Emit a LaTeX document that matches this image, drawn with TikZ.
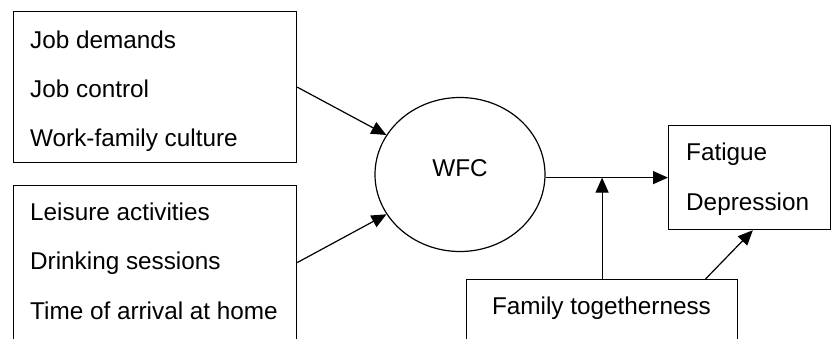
\documentclass[tikz,border=0pt]{standalone}
\usepackage{fontspec}
\setmainfont{Liberation Sans}
\usetikzlibrary{arrows.meta,shapes.geometric,calc}

\tikzset{
  frame/.style={draw, rectangle, line width=1.2pt, inner sep=0pt, anchor=north west},
  label/.style={anchor=base west, inner sep=0pt, font=\fontsize{24.3}{29}\selectfont},
  link/.style={line width=1.2pt, -{Triangle[length=15pt,width=13pt]}},
}

\begin{document}
\begin{tikzpicture}[x=1pt, y=-1pt]
  \useasboundingbox (0,0) rectangle (831,338);

  % predictor boxes
  \node[frame, minimum width=283pt, minimum height=151pt] (work) at (13,11) {};
  \node[frame, minimum width=283pt, minimum height=154pt] (life) at (13,185) {};
  \node[label] (jd) at (30,48) {Job demands};
  \node[label] (jc) at (30,97) {Job control};
  \node[label] (wc) at (30,146) {Work-family culture};
  \node[label] (la) at (30,220) {Leisure activities};
  \node[label] (ds) at (30,269) {Drinking sessions};
  \node[label] (ta) at (30,319) {Time of arrival at home};

  % mediator
  \node[draw, ellipse, line width=1.2pt, inner sep=0pt,
        minimum width=170pt, minimum height=154pt] (wfc) at (460,174.5) {};
  \node[label, anchor=base] (wfct) at (460,176) {WFC};

  % outcome box
  \node[frame, minimum width=162pt, minimum height=104pt] (out) at (668,125) {};
  \node[label] (fa) at (686,160) {Fatigue};
  \node[label] (de) at (686,210) {Depression};

  % moderator box
  \node[frame, minimum width=271pt, minimum height=60pt] (fam) at (466,279) {};
  \node[label, anchor=base] (famt) at (601.5,314) {Family togetherness};

  % paths
  \draw[link] (work.east) -- (wfc);
  \draw[link] (life.east) -- (wfc);
  \draw[link] (wfc.east |- out.west) -- (out.west);
  \draw[link] (fam.north) -- (fam.north |- out.west);
  \draw[link] ($(fam.north west)!0.88!(fam.north east)$)
              -- ($(out.south west)!0.52!(out.south east)$);
\end{tikzpicture}
\end{document}
